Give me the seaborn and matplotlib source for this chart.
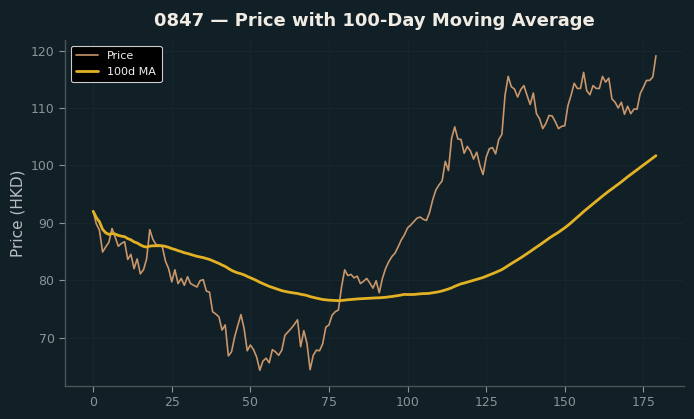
import numpy as np
import pandas as pd
import matplotlib
matplotlib.use("Agg")
import matplotlib.pyplot as plt
import seaborn as sns

title = "0847 \u2014 Price with 100-Day Moving Average"
ylabel = "Price (HKD)"
ma_window = 100

price = [
    92.0, 89.8, 88.7, 84.9, 85.8, 86.6, 89.0, 87.5, 85.9, 86.4,
    86.7, 83.6, 84.5, 82.0, 83.7, 81.1, 81.8, 83.7, 88.8, 87.1,
    86.2, 86.1, 85.8, 83.3, 82.0, 79.7, 81.8, 79.4, 80.3, 79.1,
    80.6, 79.4, 79.1, 78.8, 79.9, 80.1, 78.1, 77.9, 74.5, 74.1,
    73.6, 71.3, 72.2, 66.8, 67.5, 70.1, 72.1, 74.0, 71.6, 67.7,
    68.7, 67.9, 66.6, 64.3, 65.9, 66.4, 65.6, 67.9, 67.5, 66.9,
    67.8, 70.4, 71.0, 71.6, 72.3, 73.1, 68.4, 71.2, 69.0, 64.4,
    66.9, 67.8, 67.7, 68.9, 71.8, 72.2, 73.9, 74.5, 74.8, 78.8,
    81.8, 80.8, 81.0, 80.4, 80.7, 79.4, 79.8, 80.3, 79.5, 78.6,
    79.9, 77.8, 80.3, 82.0, 83.2, 84.1, 84.7, 85.8, 87.0, 87.9,
    89.1, 89.6, 90.2, 90.8, 91.0, 90.6, 90.4, 91.8, 94.0, 95.7,
    96.6, 97.3, 100.7, 99.1, 104.7, 106.7, 104.6, 104.5, 102.1, 103.3,
    102.5, 101.1, 102.3, 100.0, 98.4, 101.4, 102.9, 103.1, 102.0, 104.5,
    105.4, 112.2, 115.5, 113.7, 113.3, 111.9, 113.2, 113.9, 112.2, 110.6,
    112.6, 109.0, 108.1, 106.4, 107.3, 108.7, 108.6, 107.6, 106.4, 106.8,
    106.9, 110.4, 112.2, 114.3, 113.4, 113.4, 116.2, 113.0, 112.3, 113.9,
    113.4, 113.4, 115.5, 114.5, 115.2, 111.6, 111.0, 110.0, 111.0, 108.9,
    110.3, 109.0, 109.8, 109.8, 112.5, 113.6, 114.8, 114.8, 115.4, 119.1,
]
day = list(range(len(price)))

df = pd.DataFrame({"day": day, "price": price})
df["ma"] = df["price"].rolling(ma_window, min_periods=1).mean()

bg = "#111f26"
sns.set_theme(style="dark")
plt.rcParams["font.family"] = ["DejaVu Sans"]

fig = plt.figure(figsize=(6.94, 4.19), dpi=100, facecolor=bg)
ax = fig.add_axes([0.0937, 0.0788, 0.892, 0.8257])
ax.set_facecolor(bg)

sns.lineplot(data=df, x="day", y="price", ax=ax, color="#c8966a", linewidth=1.2, label="Price")
sns.lineplot(data=df, x="day", y="ma", ax=ax, color="#e2b124", linewidth=2.0, label="100d MA")

ax.set_title(title, color="#f0ece4", fontsize=13, fontweight="bold", pad=10)
ax.set_xlabel("")
ax.set_ylabel(ylabel, color="#b8bec2", fontsize=11)
ax.set_xticks([0, 25, 50, 75, 100, 125, 150, 175])
ax.set_yticks([70, 80, 90, 100, 110, 120])
ax.tick_params(colors="#8a9499", labelsize=9, length=4, width=0.8, color="#8a9499",
               bottom=True, left=True)
ax.grid(True, color="#17262d", linewidth=0.8)
for s in ["top", "right"]:
    ax.spines[s].set_visible(False)
for s in ["left", "bottom"]:
    ax.spines[s].set_color("#4a5558")
    ax.spines[s].set_linewidth(1.0)

leg = ax.legend(loc="upper left", fontsize=8, facecolor="#000000", edgecolor="#cccccc",
                framealpha=1.0, labelcolor="#f0f0f0", borderpad=0.5)
leg.get_frame().set_linewidth(0.8)

fig.savefig("out.png", dpi=100, facecolor=bg)
